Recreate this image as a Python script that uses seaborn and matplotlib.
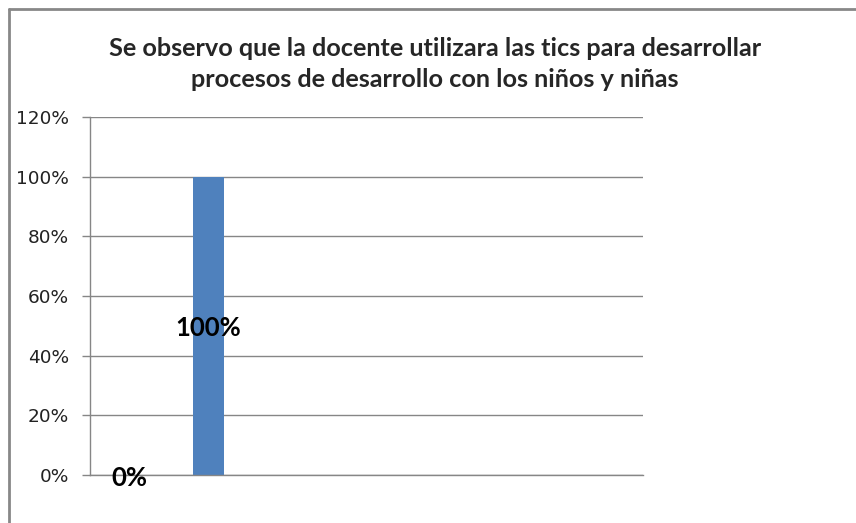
import matplotlib
matplotlib.use("Agg")
import matplotlib.pyplot as plt
import seaborn as sns
from matplotlib.lines import Line2D
from matplotlib.ticker import PercentFormatter

# datos
categorias = ["Si", "No"]
valores = [0.0, 1.0]
etiquetas = ["0%", "100%"]
ticks_y = [0, 0.2, 0.4, 0.6, 0.8, 1.0, 1.2]
titulo = "Se observo que la docente utilizara las tics para desarrollar\nprocesos de desarrollo con los niños y niñas"

sns.set_style("white")
plt.rcParams['font.family'] = ['Lato', 'DejaVu Sans']

fig = plt.figure(figsize=(8.56, 5.23), dpi=100)
ax = fig.add_axes([90 / 856, 1 - 475 / 523, 553 / 856, 358 / 523])

sns.barplot(x=categorias, y=valores, color="#4F81BD", saturation=1, width=0.4,
            linewidth=0, ax=ax)

ax.set_xlim(-0.5, 6.5)
ax.set_ylim(0, 1.2)
ax.set_yticks(ticks_y)
ax.yaxis.set_major_formatter(PercentFormatter(1.0, decimals=0))
ax.set_xticks([])
ax.set_xlabel("")
ax.set_ylabel("")

gris = "#868686"
ax.grid(axis="y", color=gris, linewidth=1.0)
ax.set_axisbelow(True)
for lado in ["top", "right"]:
    ax.spines[lado].set_visible(False)
for lado in ["left", "bottom"]:
    ax.spines[lado].set_color(gris)
    ax.spines[lado].set_linewidth(1.0)
ax.tick_params(axis="y", length=6, width=1.0, color=gris, labelsize=13.3,
               labelcolor="#222222", pad=9, left=True)
for t in ax.get_yticklabels():
    t.set_family("DejaVu Sans")

# etiquetas de datos
for i, (v, txt) in enumerate(zip(valores, etiquetas)):
    ax.annotate(txt, (i, v / 2), xytext=(0, -1.5 if v > 0 else -2),
                textcoords="offset points", ha="center", va="center",
                fontsize=18.5, fontweight="bold", color="black")

fig.text(435 / 856, 1 - 64 / 523, titulo, ha="center", va="center",
         fontsize=18.2, fontweight="bold", linespacing=1.38)

# borde del area del grafico
fig.add_artist(Line2D([9 / 856, 1], [1 - 9 / 523, 1 - 9 / 523], color="#888888", linewidth=2))
fig.add_artist(Line2D([9 / 856, 9 / 856], [0, 1 - 9 / 523], color="#888888", linewidth=2))

fig.savefig("out.png", dpi=100, facecolor="white")
